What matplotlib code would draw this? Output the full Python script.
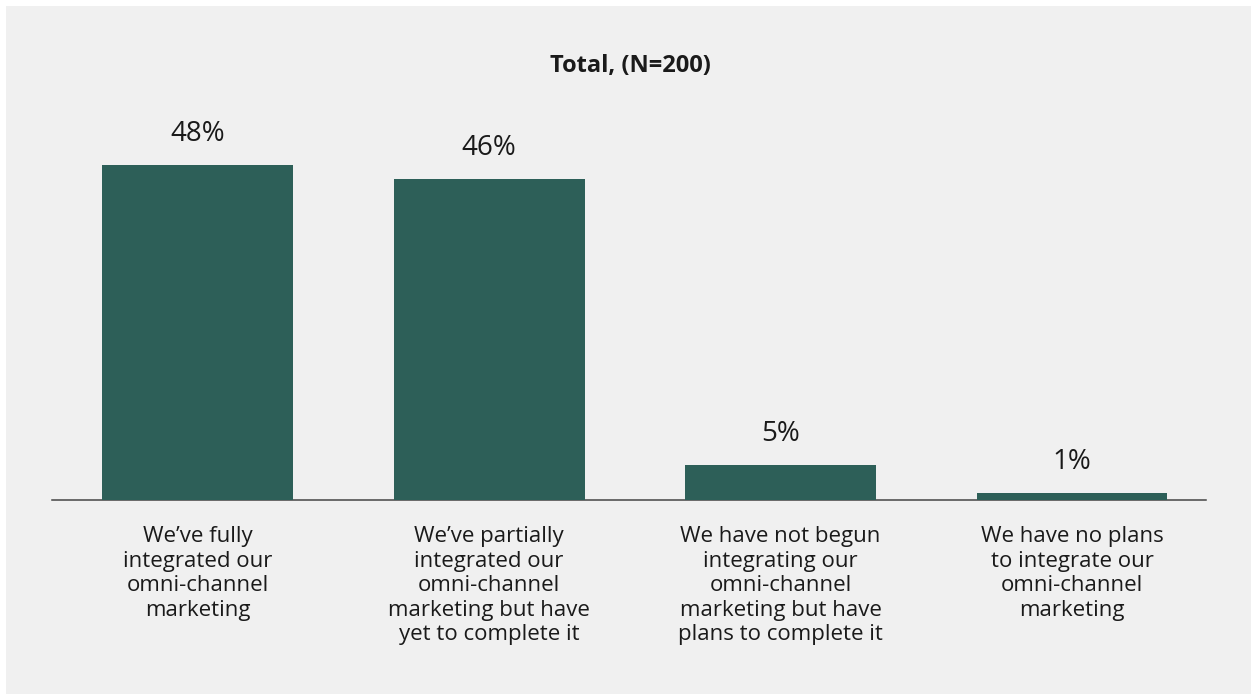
import matplotlib
matplotlib.use("Agg")
import matplotlib.pyplot as plt
from matplotlib.patches import Rectangle

plt.rcParams["font.family"] = ["Open Sans", "DejaVu Sans"]

# Survey responses
categories = [
    "We\u2019ve fully\nintegrated our\nomni-channel\nmarketing",
    "We\u2019ve partially\nintegrated our\nomni-channel\nmarketing but have\nyet to complete it",
    "We have not begun\nintegrating our\nomni-channel\nmarketing but have\nplans to complete it",
    "We have no plans\nto integrate our\nomni-channel\nmarketing",
]
shares = [48, 46, 5, 1]
title = "Total, (N=200)"

W, H = 1251, 694
BAR = "#2d5f58"
TEXT = "#1a1a1a"
PANEL = "#f0f0f0"

fig = plt.figure(figsize=(W / 100, H / 100), dpi=100, facecolor="white")
fig.patches.append(Rectangle((6 / W, -0.01), 1.01, (H - 6) / H + 0.01,
                             transform=fig.transFigure, facecolor=PANEL,
                             edgecolor="none", linewidth=0, zorder=-10))

left, right = 52, 1206
base = 500
ax = fig.add_axes([left / W, (H - base) / H, (right - left) / W, 419 / H])
ax.set_facecolor("none")
ax.set_zorder(5)

x = list(range(len(shares)))
ax.bar(x, shares, width=0.655, color=BAR, zorder=3)
ax.set_xlim(-0.50, 3.46)
ax.set_ylim(0, 60)

for s in ["top", "right", "left"]:
    ax.spines[s].set_visible(False)
ax.spines["bottom"].set_color("#444444")
ax.spines["bottom"].set_linewidth(1.1)
ax.spines["bottom"].set_zorder(2)
ax.set_yticks([])
ax.set_xticks([])

for xi, v in zip(x, shares):
    ax.annotate(f"{v}%", xy=(xi, v), xytext=(0, 17), textcoords="offset points",
                ha="center", va="baseline", fontsize=20, color=TEXT)

for xi, lab in zip(x, categories):
    ax.annotate(lab, xy=(xi, 0), xytext=(0, -19), textcoords="offset points",
                ha="center", va="top", fontsize=16, color=TEXT, linespacing=1.22,
                multialignment="center", annotation_clip=False)

fig.text(630 / W, (H - 72) / H, title, ha="center", va="baseline",
         fontsize=17, fontweight="bold", color=TEXT)

fig.savefig("out.png", dpi=100, facecolor="white")
